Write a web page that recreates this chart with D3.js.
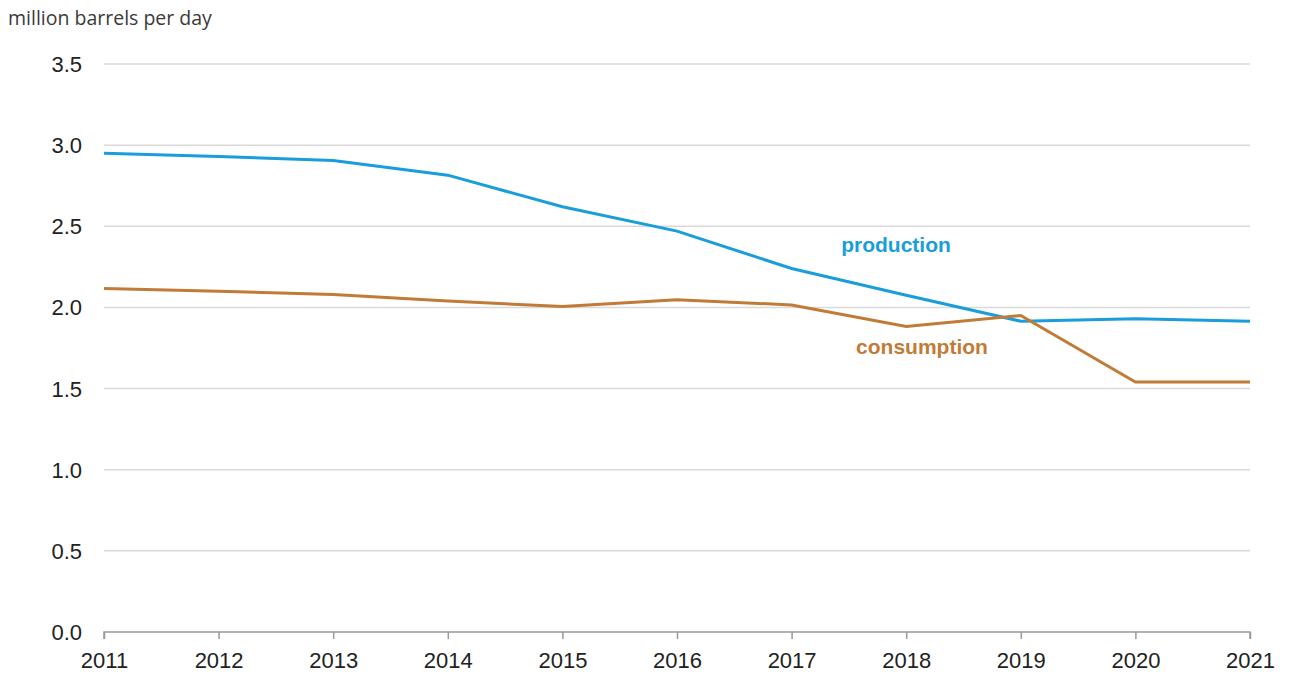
<!DOCTYPE html>
<html>
<head>
<meta charset="utf-8">
<script src="https://cdn.jsdelivr.net/npm/d3@7"></script>
<style>
  body { margin: 0; background: #fff; }
  svg { display: block; }
</style>
</head>
<body>
<div id="chart"></div>
<script>
const years = [2011, 2012, 2013, 2014, 2015, 2016, 2017, 2018, 2019, 2020, 2021];
const production = [2.95, 2.93, 2.905, 2.815, 2.62, 2.47, 2.24, 2.075, 1.915, 1.93, 1.915];
const consumption = [2.117, 2.10, 2.08, 2.04, 2.005, 2.048, 2.015, 1.882, 1.95, 1.54, 1.54];
const yTicks = [0, 0.5, 1.0, 1.5, 2.0, 2.5, 3.0, 3.5];

const width = 1290, height = 676;
const svg = d3.select('#chart').append('svg')
    .attr('width', width)
    .attr('height', height);

const x = d3.scaleLinear().domain([2011, 2021]).range([104, 1250]);
const y = d3.scaleLinear().domain([0, 3.5]).range([632, 64]);

// unit label
svg.append('text')
    .attr('x', 8).attr('y', 25)
    .attr('font-family', 'Open Sans, sans-serif')
    .attr('font-size', 19.5)
    .attr('fill', '#3a3a3a')
    .text('million barrels per day');

// gridlines
svg.append('g').selectAll('line')
    .data(yTicks.filter(d => d > 0))
    .enter().append('line')
    .attr('x1', 104).attr('x2', 1250)
    .attr('y1', d => y(d)).attr('y2', d => y(d))
    .attr('stroke', '#d9d9d9')
    .attr('stroke-width', 1.5);

// y labels
svg.append('g').selectAll('text')
    .data(yTicks)
    .enter().append('text')
    .attr('x', 82)
    .attr('y', d => y(d) + 8)
    .attr('text-anchor', 'end')
    .attr('font-family', 'Liberation Sans, Arial, sans-serif')
    .attr('font-size', 22)
    .attr('fill', '#222')
    .text(d => d.toFixed(1));

// x axis
const xAxis = svg.append('g')
    .attr('transform', `translate(0,${y(0)})`)
    .call(d3.axisBottom(x).tickValues(years).tickFormat(d3.format('d')).tickSize(7).tickPadding(13));
xAxis.select('.domain').attr('stroke', '#999').attr('stroke-width', 1.5).attr('d', 'M104,7V0H1250V7');
xAxis.selectAll('.tick line').attr('stroke', '#999').attr('stroke-width', 1.5);
xAxis.selectAll('.tick text')
    .attr('font-family', 'Liberation Sans, Arial, sans-serif')
    .attr('font-size', 22)
    .attr('fill', '#222');

const line = d3.line()
    .x((d, i) => x(years[i]))
    .y(d => y(d));

svg.append('path')
    .datum(production)
    .attr('fill', 'none')
    .attr('stroke', '#1a9ddb')
    .attr('stroke-width', 3)
    .attr('d', line);

svg.append('path')
    .datum(consumption)
    .attr('fill', 'none')
    .attr('stroke', '#c27b36')
    .attr('stroke-width', 3)
    .attr('d', line);

// series labels
svg.append('text')
    .attr('x', 896).attr('y', 252)
    .attr('text-anchor', 'middle')
    .attr('font-family', 'Liberation Sans, Arial, sans-serif')
    .attr('font-weight', 'bold')
    .attr('font-size', 21)
    .attr('fill', '#1a9ddb')
    .text('production');

svg.append('text')
    .attr('x', 922).attr('y', 354)
    .attr('text-anchor', 'middle')
    .attr('font-family', 'Liberation Sans, Arial, sans-serif')
    .attr('font-weight', 'bold')
    .attr('font-size', 21)
    .attr('fill', '#c27b36')
    .text('consumption');
</script>
</body>
</html>
